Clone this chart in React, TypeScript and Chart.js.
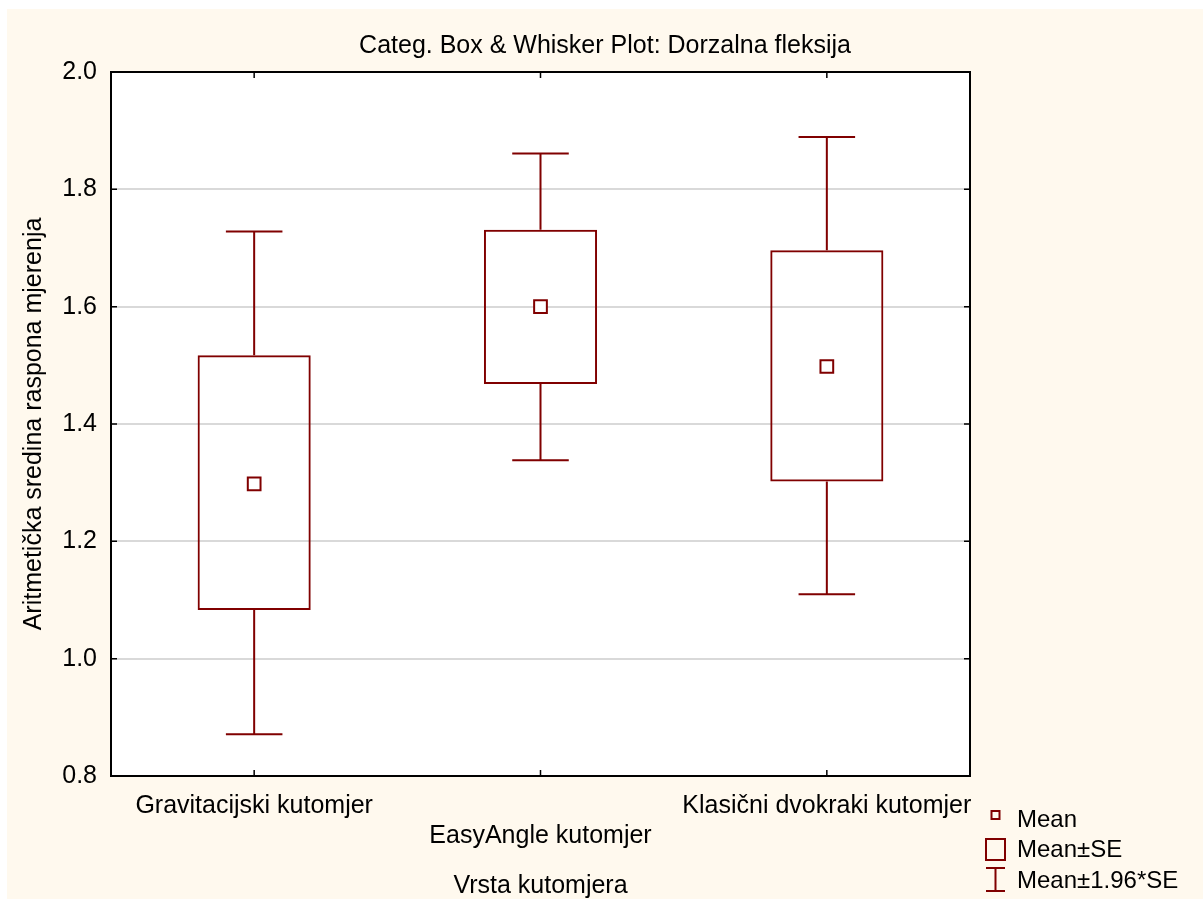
import React, { useEffect, useRef } from "react";
import { Chart, registerables } from "chart.js";

Chart.register(...registerables);

const chartTitle = "Categ. Box & Whisker Plot: Dorzalna fleksija";
const xAxisTitle = "Vrsta kutomjera";
const yAxisTitle = "Aritmetička sredina raspona mjerenja";
const categories = ["Gravitacijski kutomjer", "EasyAngle kutomjer", "Klasični dvokraki kutomjer"];
const means = [1.298, 1.6, 1.498];
const seLow = [1.083, 1.468, 1.302];
const seHigh = [1.517, 1.731, 1.696];
const ciLow = [0.871, 1.338, 1.11];
const ciHigh = [1.728, 1.861, 1.889];
const yMin = 0.8;
const yMax = 2.0;
const yStep = 0.2;
const legendLabels = ["Mean", "Mean±SE", "Mean±1.96*SE"];

const RED = "#800000";
const CREAM = "#FFF9EE";
const FONT = "'Liberation Sans', Arial, sans-serif";
const FS = 25;

const boxPlugin = {
  id: "boxWhisker",
  beforeDraw(chart: any) {
    const { ctx, chartArea } = chart;
    ctx.save();
    ctx.fillStyle = CREAM;
    ctx.fillRect(0, 0, chart.width, chart.height);
    ctx.fillStyle = "#ffffff";
    ctx.fillRect(chartArea.left, chartArea.top, chartArea.right - chartArea.left, chartArea.bottom - chartArea.top);
    ctx.restore();
  },
  afterDatasetsDraw(chart: any) {
    const { ctx, chartArea } = chart;
    const x = chart.scales.x;
    const y = chart.scales.y;
    const meta = chart.getDatasetMeta(0);
    ctx.save();
    ctx.strokeStyle = RED;
    ctx.lineWidth = 2;
    categories.forEach((_, i) => {
      const bar = meta.data[i];
      const cx = x.getPixelForValue(i);
      const capHalf = bar ? bar.width / 4 : 28;
      const segs = [
        [y.getPixelForValue(seHigh[i]), y.getPixelForValue(ciHigh[i])],
        [y.getPixelForValue(seLow[i]), y.getPixelForValue(ciLow[i])],
      ];
      segs.forEach(([a, b]) => {
        ctx.beginPath();
        ctx.moveTo(cx, a);
        ctx.lineTo(cx, b);
        ctx.moveTo(cx - capHalf, b);
        ctx.lineTo(cx + capHalf, b);
        ctx.stroke();
      });
    });
    ctx.restore();

    // frame & inward ticks
    ctx.save();
    ctx.strokeStyle = "#000";
    ctx.lineWidth = 2;
    ctx.strokeRect(chartArea.left, chartArea.top, chartArea.right - chartArea.left, chartArea.bottom - chartArea.top);
    ctx.lineWidth = 1.5;
    const tl = 6;
    y.ticks.forEach((t: any) => {
      const py = y.getPixelForValue(t.value);
      ctx.beginPath();
      ctx.moveTo(chartArea.left, py);
      ctx.lineTo(chartArea.left + tl, py);
      ctx.moveTo(chartArea.right, py);
      ctx.lineTo(chartArea.right - tl, py);
      ctx.stroke();
    });
    categories.forEach((_, i) => {
      const px = x.getPixelForValue(i);
      ctx.beginPath();
      ctx.moveTo(px, chartArea.bottom);
      ctx.lineTo(px, chartArea.bottom - tl);
      ctx.moveTo(px, chartArea.top);
      ctx.lineTo(px, chartArea.top + tl);
      ctx.stroke();
    });
    ctx.restore();

    // legend
    ctx.save();
    ctx.strokeStyle = RED;
    ctx.lineWidth = 2;
    const ix = 988.5;
    ctx.strokeRect(ix - 4, 802, 8, 8);
    ctx.strokeRect(ix - 9.5, 830, 19, 21);
    ctx.beginPath();
    ctx.moveTo(ix, 859);
    ctx.lineTo(ix, 882);
    ctx.moveTo(ix - 9.5, 859);
    ctx.lineTo(ix + 9.5, 859);
    ctx.moveTo(ix - 9.5, 882);
    ctx.lineTo(ix + 9.5, 882);
    ctx.stroke();
    ctx.fillStyle = "#000";
    ctx.font = `24px ${FONT}`;
    ctx.textBaseline = "middle";
    ctx.textAlign = "left";
    const ys = [811, 841, 872];
    legendLabels.forEach((l, i) => ctx.fillText(l, 1010, ys[i]));
    ctx.restore();
  },
};

export default function App() {
  const ref = useRef<HTMLCanvasElement>(null);
  useEffect(() => {
    if (!ref.current) return;
    const chart = new Chart(ref.current, {
      type: "bar",
      data: {
        labels: categories.map((c, i) => (i % 2 === 1 ? ["", c] : c)),
        datasets: [
          {
            type: "bar",
            label: "Mean±SE",
            data: categories.map((_, i) => [seLow[i], seHigh[i]]),
            backgroundColor: "rgba(0,0,0,0)",
            borderColor: RED,
            borderWidth: 2,
            borderSkipped: false,
            barPercentage: 0.395,
            categoryPercentage: 1,
            order: 2,
          } as any,
          {
            type: "line",
            label: "Mean",
            data: means,
            showLine: false,
            pointStyle: "rect",
            pointRadius: 9,
            pointBorderWidth: 2,
            pointBorderColor: RED,
            pointBackgroundColor: "#ffffff",
            order: 1,
          } as any,
        ],
      },
      options: {
        responsive: false,
        animation: false,
        layout: { padding: { left: 0, right: 0, top: 0, bottom: 0 } },
        plugins: {
          legend: { display: false },
          tooltip: { enabled: false },
          title: {
            display: true,
            text: chartTitle,
            color: "#000",
            font: { family: FONT, size: FS, weight: "normal", lineHeight: 1.2 },
            padding: { top: 22, bottom: 11 },
          },
        },
        scales: {
          x: {
            type: "category",
            offset: true,
            grid: { display: false, drawTicks: false },
            border: { display: false },
            ticks: {
              color: "#000",
              font: { family: FONT, size: FS, lineHeight: 1.2 },
              padding: 15,
              maxRotation: 0,
              autoSkip: false,
            },
            title: {
              display: true,
              text: xAxisTitle,
              color: "#000",
              font: { family: FONT, size: FS, lineHeight: 1.2 },
              padding: { top: 0, bottom: -2 },
            },
            afterFit: (s: any) => {
              s.height = 123;
            },
          },
          y: {
            min: yMin,
            max: yMax,
            grid: {
              drawTicks: false,
              lineWidth: 2,
              color: (c: any) =>
                c.tick && (Math.abs(c.tick.value - yMin) < 1e-6 || Math.abs(c.tick.value - yMax) < 1e-6)
                  ? "rgba(0,0,0,0)"
                  : "#d9d9d9",
            },
            border: { display: false },
            ticks: {
              stepSize: yStep,
              color: "#000",
              font: { family: FONT, size: FS },
              padding: 14,
              callback: (v: any) => Number(v).toFixed(1),
            },
            title: {
              display: true,
              text: yAxisTitle,
              color: "#000",
              font: { family: FONT, size: FS, lineHeight: 1.2 },
              padding: { top: 12, bottom: 0 },
            },
            afterFit: (s: any) => {
              s.width = 104;
            },
          },
          yRight: {
            position: "right",
            min: yMin,
            max: yMax,
            grid: { display: false, drawTicks: false },
            border: { display: false },
            ticks: { display: false },
            afterFit: (s: any) => {
              s.width = 233;
            },
          },
        },
      } as any,
      plugins: [boxPlugin],
    });
    return () => chart.destroy();
  }, []);
  return (
    <div style={{ position: "fixed", left: 7, top: 9, width: 1196, height: 890, background: CREAM }}>
      <canvas ref={ref} width={1196} height={890} style={{ width: 1196, height: 890, display: "block" }} />
    </div>
  );
}
